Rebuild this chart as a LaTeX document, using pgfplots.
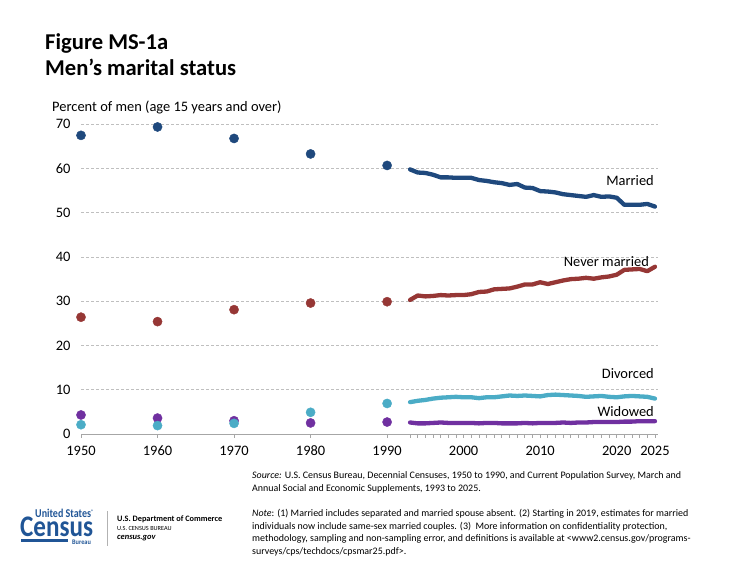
\documentclass[border=0pt]{standalone}
\usepackage{pgfplots}
\pgfplotsset{compat=1.18}
\usepackage{fontspec}
\setmainfont{Carlito}
\definecolor{married}{RGB}{31,73,125}
\definecolor{nevermarried}{RGB}{150,55,53}
\definecolor{divorced}{RGB}{75,172,198}
\definecolor{widowed}{RGB}{112,48,160}
\definecolor{censusblue}{RGB}{32,85,150}
\definecolor{gridgray}{RGB}{191,191,191}
\definecolor{axisgray}{RGB}{166,166,166}

\pgfplotstableread{
year married nevermarried divorced widowed
1993 59.8 30.3 7.2 2.6
1994 59.1 31.3 7.5 2.4
1995 59.0 31.1 7.7 2.4
1996 58.6 31.2 8.0 2.5
1997 58.0 31.4 8.2 2.6
1998 58.0 31.3 8.3 2.5
1999 57.9 31.4 8.4 2.5
2000 57.9 31.4 8.3 2.5
2001 57.9 31.6 8.3 2.5
2002 57.4 32.1 8.1 2.4
2003 57.2 32.2 8.3 2.5
2004 56.9 32.7 8.3 2.5
2005 56.7 32.8 8.5 2.4
2006 56.3 32.9 8.7 2.4
2007 56.5 33.3 8.6 2.4
2008 55.7 33.8 8.7 2.5
2009 55.6 33.8 8.6 2.4
2010 54.9 34.3 8.5 2.5
2011 54.8 33.9 8.8 2.5
2012 54.6 34.3 8.9 2.5
2013 54.2 34.7 8.8 2.6
2014 54.0 35.0 8.7 2.5
2015 53.8 35.1 8.6 2.6
2016 53.6 35.3 8.4 2.6
2017 54.0 35.1 8.5 2.7
2018 53.6 35.4 8.6 2.7
2019 53.7 35.6 8.4 2.7
2020 53.4 36.0 8.3 2.7
2021 51.8 37.1 8.5 2.8
2022 51.8 37.2 8.6 2.8
2023 51.8 37.3 8.5 2.9
2024 52.0 36.8 8.4 2.9
2025 51.4 37.8 8.0 2.9
}\cpsdata

\pgfplotstableread{
year married nevermarried divorced widowed
1950 67.5 26.4 2.1 4.3
1960 69.4 25.4 1.9 3.6
1970 66.8 28.1 2.4 3.0
1980 63.3 29.6 4.9 2.5
1990 60.7 29.9 6.9 2.7
}\censusdata

\begin{document}
\begin{tikzpicture}[x=1bp,y=1bp]
\path[use as bounding box] (0,0) rectangle (750,562);

% titles
\node[anchor=base west,inner sep=0,font=\fontsize{22.7}{25}\selectfont\bfseries] at (45,512.7) {Figure MS-1a};
\node[anchor=base west,inner sep=0,font=\fontsize{22.7}{25}\selectfont\bfseries] at (45,486) {Men’s marital status};
\node[anchor=base west,inner sep=0,font=\fontsize{14.5}{16}\selectfont] at (52,450.5) {Percent of men (age 15 years and over)};

\begin{axis}[
  at={(81bp,128bp)}, anchor=south west,
  scale only axis, width=577bp, height=309.7bp,
  xmin=1950, xmax=2025.4, ymin=0, ymax=70,
  axis x line*=bottom, axis y line*=left,
  x axis line style={draw=axisgray, line width=0.9bp, -},
  y axis line style={draw=none},
  xtick={1950,1960,1970,1980,1990,2000,2010,2020,2025},
  xticklabels={1950,1960,1970,1980,1990,2000,2010,2020,2025},
  minor xtick={1993,1994,...,2025},
  tick align=outside,
  major tick length=4bp, minor tick length=4bp,
  xtick style={draw=axisgray, line width=0.8bp},
  minor tick style={draw=axisgray, line width=0.8bp},
  ytick={0,10,...,70},
  ytick style={draw=none},
  ymajorgrids,
  grid style={draw=gridgray, line width=0.8bp, dash pattern=on 3bp off 2bp},
  ticklabel style={font=\fontsize{14.5}{16}\selectfont},
  xticklabel style={yshift=-4.5bp},
  yticklabel style={xshift=-3bp},
  /pgf/number format/assume math mode=true,
  clip=false,
]
% decennial census points
\addplot[only marks, mark=*, mark size=4.6bp, mark options={draw=married, fill=married}] table[x=year, y=married] {\censusdata};
\addplot[only marks, mark=*, mark size=4.6bp, mark options={draw=nevermarried, fill=nevermarried}] table[x=year, y=nevermarried] {\censusdata};
\addplot[only marks, mark=*, mark size=4.6bp, mark options={draw=widowed, fill=widowed}] table[x=year, y=widowed] {\censusdata};
\addplot[only marks, mark=*, mark size=4.6bp, mark options={draw=divorced, fill=divorced}] table[x=year, y=divorced] {\censusdata};

% CPS lines
\addplot[married, line width=4.3bp, line join=round, line cap=round, mark=none] table[x=year, y=married] {\cpsdata};
\addplot[nevermarried, line width=4.3bp, line join=round, line cap=round, mark=none] table[x=year, y=nevermarried] {\cpsdata};
\addplot[divorced, line width=4.3bp, line join=round, line cap=round, mark=none] table[x=year, y=divorced] {\cpsdata};
\addplot[widowed, line width=4.3bp, line join=round, line cap=round, mark=none] table[x=year, y=widowed] {\cpsdata};
\end{axis}

% series labels
\node[anchor=base east,inner sep=0,font=\fontsize{14.5}{16}\selectfont] at (654,376) {Married};
\node[anchor=base east,inner sep=0,font=\fontsize{14.5}{16}\selectfont] at (649,295.3) {Never married};
\node[anchor=base east,inner sep=0,font=\fontsize{14.5}{16}\selectfont] at (654,183) {Divorced};
\node[anchor=base east,inner sep=0,font=\fontsize{14.5}{16}\selectfont] at (654,145.3) {Widowed};

% source and note, one node per line
\begin{scope}[every node/.style={anchor=base west,inner sep=0,font=\fontsize{10}{12}\selectfont}]
\node at (252,83) {\textit{Source:} U.S. Census Bureau, Decennial Censuses, 1950 to 1990, and Current Population Survey, March and};
\node at (252,70.5) {Annual Social and Economic Supplements, 1993 to 2025.};
\node at (252,45) {\textit{Note}: (1) Married includes separated and married spouse absent. (2) Starting in 2019, estimates for married};
\node at (252,32.6) {individuals now include same-sex married couples. (3)\ \ More information on confidentiality protection,};
\node at (252,20.2) {methodology, sampling and non-sampling error, and definitions is available at <www2.census.gov/programs-};
\node at (252,7.8) {surveys/cps/techdocs/cpsmar25.pdf>.};
\end{scope}

% logo
\node[anchor=base west,inner sep=0,text depth=0pt,text=censusblue,font=\fontsize{12}{12}\selectfont\bfseries] at (35,44.5)
  {\scalebox{0.84}[1]{United States}\textsuperscript{\fontsize{5}{5}\selectfont ®}};
\node[anchor=base west,inner sep=0,text depth=0pt,text height=19bp,text=censusblue,font=\fontsize{30}{30}\selectfont\bfseries] at (20,25.5)
  {\scalebox{0.84}[1]{Census}};
\fill[censusblue] (21,19.5) rectangle (68,22.5);
\node[anchor=base west,inner sep=0,text=censusblue,font=\fontsize{7}{8}\selectfont\bfseries] at (72,17.5)
  {\scalebox{0.9}[1]{Bureau}};
\draw[gray!60, line width=0.8bp] (107.3,16) -- (107.3,51.3);
\node[anchor=base west,inner sep=0,font=\fontsize{8.3}{9}\selectfont\bfseries] at (117,40) {U.S. Department of Commerce};
\node[anchor=base west,inner sep=0,font=\fontsize{6.3}{7}\selectfont] at (117,31) {U.S. CENSUS BUREAU};
\node[anchor=base west,inner sep=0,font=\fontsize{8.5}{9}\selectfont\bfseries\itshape] at (117,22.3) {census.gov};
\end{tikzpicture}
\end{document}
